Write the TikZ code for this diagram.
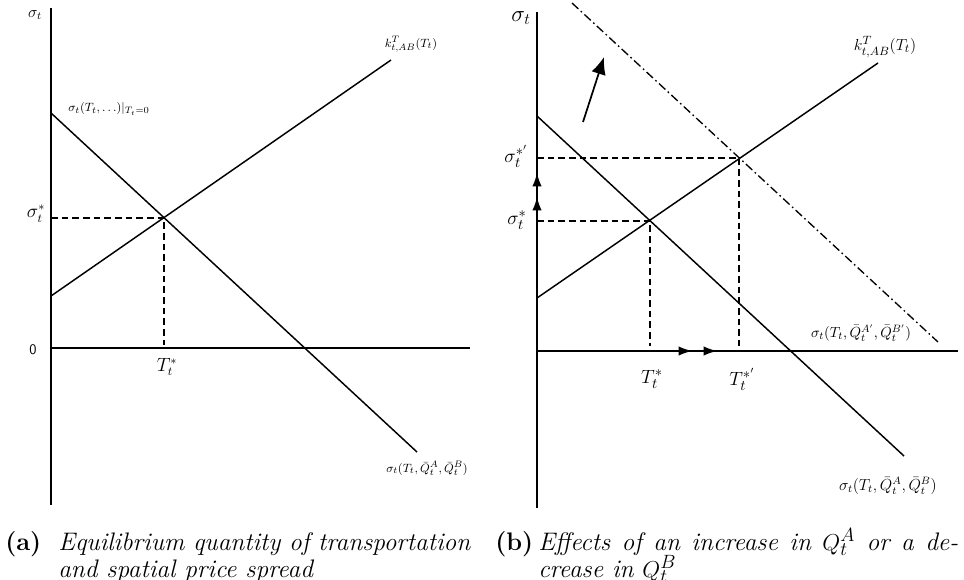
\documentclass[tikz,border=0pt]{standalone}
\usetikzlibrary{arrows.meta}
\begin{document}
\begin{tikzpicture}[x=0.75pt,y=-0.75pt,
  axis/.style={line width=1.5pt},
  curve/.style={line width=1.1pt},
  guide/.style={line width=1pt, dash pattern=on 5pt off 3pt},
  shifted/.style={line width=1pt, dash pattern=on 6.5pt off 2.5pt on 1.2pt off 2.5pt},
  tip/.style={-{Latex[length=10pt,width=7pt]}, line width=1.1pt},
  leftlab/.style={inner sep=0pt, font=\fontsize{13.5}{15}\selectfont},
  rightlab/.style={inner sep=0pt, font=\fontsize{15}{17}\selectfont},
  smalllab/.style={inner sep=0pt, font=\fontsize{9.5}{11}\selectfont},
  caplab/.style={inner sep=0pt, anchor=base west, font=\fontsize{19}{23}\selectfont}]
\useasboundingbox (0,0) rectangle (964,579);

% ---------- left panel ----------
\coordinate (LYtop) at (51,8);
\coordinate (LYbot) at (51,505);
\coordinate (LO) at (51,348);
\coordinate (LXend) at (470,348);
\coordinate (LD1) at (51,113);
\coordinate (LD2) at (417,452);
\coordinate (LU1) at (51,296);
\coordinate (LU2) at (391,60);
\coordinate (LE) at (164,218);
\coordinate (LEy) at (51,218);
\coordinate (LEx) at (164,345);
\draw[axis] (LYtop) -- (LYbot);
\draw[axis] (LO) -- (LXend);
\draw[curve] (LD1) -- (LD2);
\draw[curve] (LU1) -- (LU2);
\draw[guide] (LEy) -- (LE) -- (LEx);

\node[inner sep=0pt, font=\fontsize{11.5}{13}\selectfont] (lsig) at (35,15) {$\sigma_t$};
\node[inner sep=0pt, font=\fontsize{11}{13}\selectfont\sffamily] (lzero) at (33,350) {0};
\node[leftlab] (lsigstar) at (36,214) {$\sigma_t^*$};
\node[leftlab] (lTstar) at (167,367) {$T_t^*$};
\node[smalllab] (lk) at (411,44) {$k^T_{t,AB}(T_t)$};
\node[smalllab] (ltop) at (109,109) {$\sigma_t(T_t,\ldots)|_{T_t=0}$};
\node[smalllab] (lbot) at (427,468) {$\sigma_t(T_t,\bar Q_t^A,\bar Q_t^B)$};

% ---------- right panel ----------
\coordinate (RYtop) at (537,12);
\coordinate (RYbot) at (537,508);
\coordinate (RO) at (537,351);
\coordinate (RXend) at (958,351);
\coordinate (RD1) at (537,116);
\coordinate (RD2) at (904,456);
\coordinate (RU1) at (537,298);
\coordinate (RU2) at (878,63);
\coordinate (RS1) at (572,3);
\coordinate (RS2) at (938,342);
\coordinate (RE1) at (650,221);
\coordinate (RE1y) at (537,221);
\coordinate (RE1x) at (650,346);
\coordinate (RE2) at (739,158);
\coordinate (RE2y) at (537,158);
\coordinate (RE2x) at (739,346);
\draw[axis] (RYtop) -- (RYbot);
\draw[axis] (RO) -- (RXend);
\draw[curve] (RD1) -- (RD2);
\draw[curve] (RU1) -- (RU2);
\draw[shifted] (RS1) -- (RS2);
\draw[guide] (RE1y) -- (RE1) -- (RE1x);
\draw[guide] (RE2y) -- (RE2) -- (RE2x);

% shift arrows
\coordinate (va0) at (537,215);
\coordinate (va1) at (537,197);
\coordinate (va2) at (537,173);
\draw[tip] (va0) -- (va1);
\draw[tip] (va1) -- (va2);
\coordinate (ha0) at (672,351);
\coordinate (ha1) at (692,351);
\coordinate (ha2) at (717,351);
\draw[tip] (ha0) -- (ha1);
\draw[tip] (ha1) -- (ha2);
\coordinate (sa0) at (583,122);
\coordinate (sa1) at (604,57);
\draw[-{Latex[length=13pt,width=11pt]}, line width=1.3pt] (sa0) -- (sa1);

\node[inner sep=0pt, font=\fontsize{17}{19}\selectfont] (rsig) at (521,18) {$\sigma_t$};
\node[rightlab] (rsigp) at (516,156) {$\sigma_t^{*'}$};
\node[rightlab] (rsigs) at (517,220) {$\sigma_t^*$};
\node[rightlab] (rT) at (652,379) {$T_t^*$};
\node[rightlab] (rTp) at (742,379) {$T_t^{*'}$};
\node[inner sep=0pt, font=\fontsize{12.5}{14}\selectfont] (rk) at (885,47) {$k^T_{t,AB}(T_t)$};
\node[inner sep=0pt, font=\fontsize{11}{13}\selectfont] (rsh) at (861,333) {$\sigma_t(T_t,\bar Q_t^{A'},\bar Q_t^{B'})$};
\node[inner sep=0pt, font=\fontsize{11.5}{13}\selectfont] (rbot) at (888,486) {$\sigma_t(T_t,\bar Q_t^A,\bar Q_t^B)$};

% ---------- captions ----------
\node[caplab] (capa) at (5,550) {\textbf{(a)}};
\node[caplab] (capa1) at (58,550) {\makebox[309pt][s]{\itshape Equilibrium quantity of transportation}};
\node[caplab] (capa2) at (58,577) {\itshape and spatial price spread};
\node[caplab] (capb) at (495,550) {\textbf{(b)}};
\node[caplab] (capb1) at (538,550) {\makebox[315pt][s]{\itshape Effects of an increase in $Q_t^A$ or a de-}};
\node[caplab] (capb2) at (538,577) {\itshape crease in $Q_t^B$};
\end{tikzpicture}
\end{document}
